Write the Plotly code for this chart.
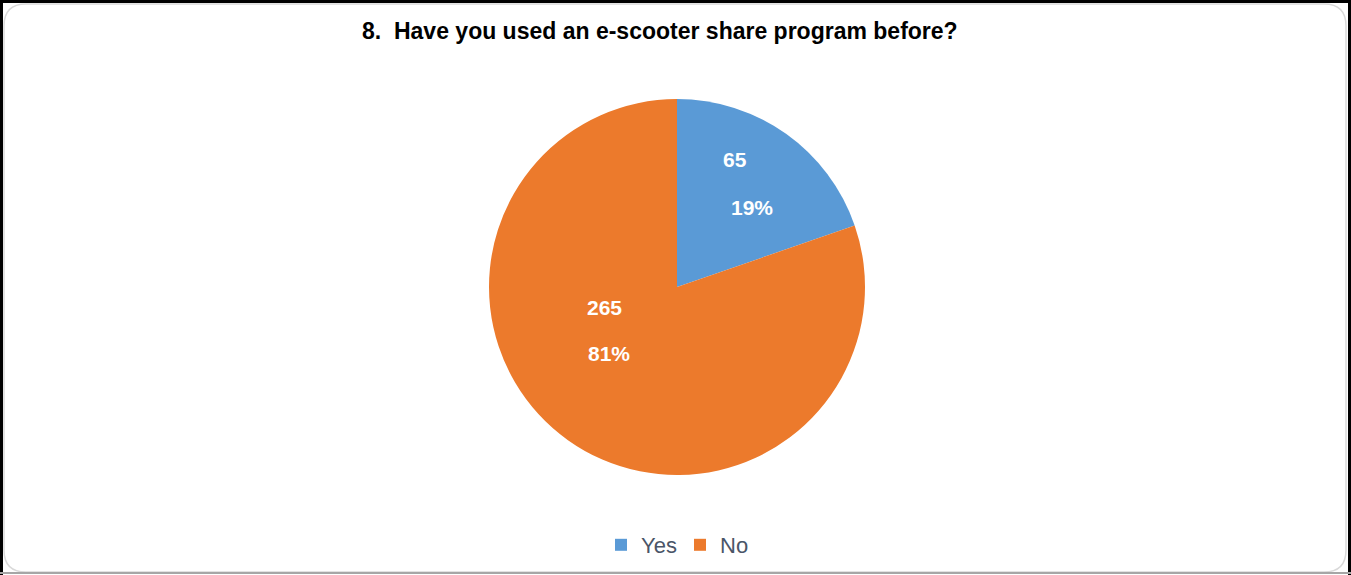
import plotly.graph_objects as go

# Survey responses
categories = ["Yes", "No"]
counts = [65, 265]
percent_labels = ["19%", "81%"]
slice_colors = ["#5A9AD6", "#EC7A2C"]

W, H = 1351, 575


def px(x):
    return x / W


def py(y):
    return 1 - y / H


fig = go.Figure()

fig.add_trace(go.Pie(
    labels=categories,
    values=counts,
    sort=False,
    direction="clockwise",
    rotation=0,
    marker=dict(colors=slice_colors, line=dict(width=0)),
    textinfo="none",
    hoverinfo="label+value+percent",
    domain=dict(x=[px(489), px(865)], y=[py(475), py(99)]),
))

# In-slice value and percentage labels
label_pos = [((735, 159), (752, 207)), ((604, 307), (609, 353))]
annotations = []
for (vpos, ppos), val, pct in zip(label_pos, counts, percent_labels):
    for (x, y), txt in ((vpos, str(val)), (ppos, pct)):
        annotations.append(dict(
            x=px(x), y=py(y), xref="paper", yref="paper",
            xanchor="center", yanchor="middle",
            text=f"<b>{txt}</b>", showarrow=False,
            font=dict(family="Arial, Liberation Sans", size=21, color="white"),
        ))

annotations.append(dict(
    x=px(660), y=py(31), xref="paper", yref="paper",
    xanchor="center", yanchor="middle",
    text="<b>8.  Have you used an e-scooter share program before?</b>",
    showarrow=False,
    font=dict(family="Arial, Liberation Sans", size=23, color="black"),
))

# Frame: outer dark edges plus inner rounded panel
r = 22
x0, y0, x1, y1 = 4, 4, 1346, 572
path = (f"M {x0 + r},{y0} L {x1 - r},{y0} Q {x1},{y0} {x1},{y0 + r} "
        f"L {x1},{y1 - r} Q {x1},{y1} {x1 - r},{y1} L {x0 + r},{y1} "
        f"Q {x0},{y1} {x0},{y1 - r} L {x0},{y0 + r} Q {x0},{y0} {x0 + r},{y0} Z")

shapes = [
    dict(type="path", xref="x", yref="y", path=path,
         line=dict(color="#D9D9D9", width=1.5), layer="below"),
    dict(type="line", xref="paper", yref="paper", x0=0, x1=1, y0=py(1.5), y1=py(1.5),
         line=dict(color="black", width=3)),
    dict(type="line", xref="paper", yref="paper", x0=px(1.5), x1=px(1.5), y0=0, y1=1,
         line=dict(color="black", width=3)),
    dict(type="line", xref="paper", yref="paper", x0=px(1349.5), x1=px(1349.5), y0=0, y1=1,
         line=dict(color="black", width=3)),
    dict(type="line", xref="paper", yref="paper", x0=0, x1=1, y0=py(573), y1=py(573),
         line=dict(color="#A6A6A6", width=2)),
]

fig.update_layout(
    width=W, height=H,
    margin=dict(l=0, r=0, t=0, b=0),
    paper_bgcolor="white",
    plot_bgcolor="rgba(0,0,0,0)",
    xaxis=dict(range=[0, W], visible=False, fixedrange=True),
    yaxis=dict(range=[H, 0], visible=False, fixedrange=True),
    showlegend=True,
    legend=dict(
        orientation="h", x=px(680), xanchor="center", y=py(545), yanchor="middle",
        font=dict(family="Arial, Liberation Sans", size=22, color="#4A5568"),
        itemwidth=30, traceorder="normal",
        entrywidth=34, entrywidthmode="pixels",
    ),
    annotations=annotations,
    shapes=shapes,
)

fig.write_html("out.html")
